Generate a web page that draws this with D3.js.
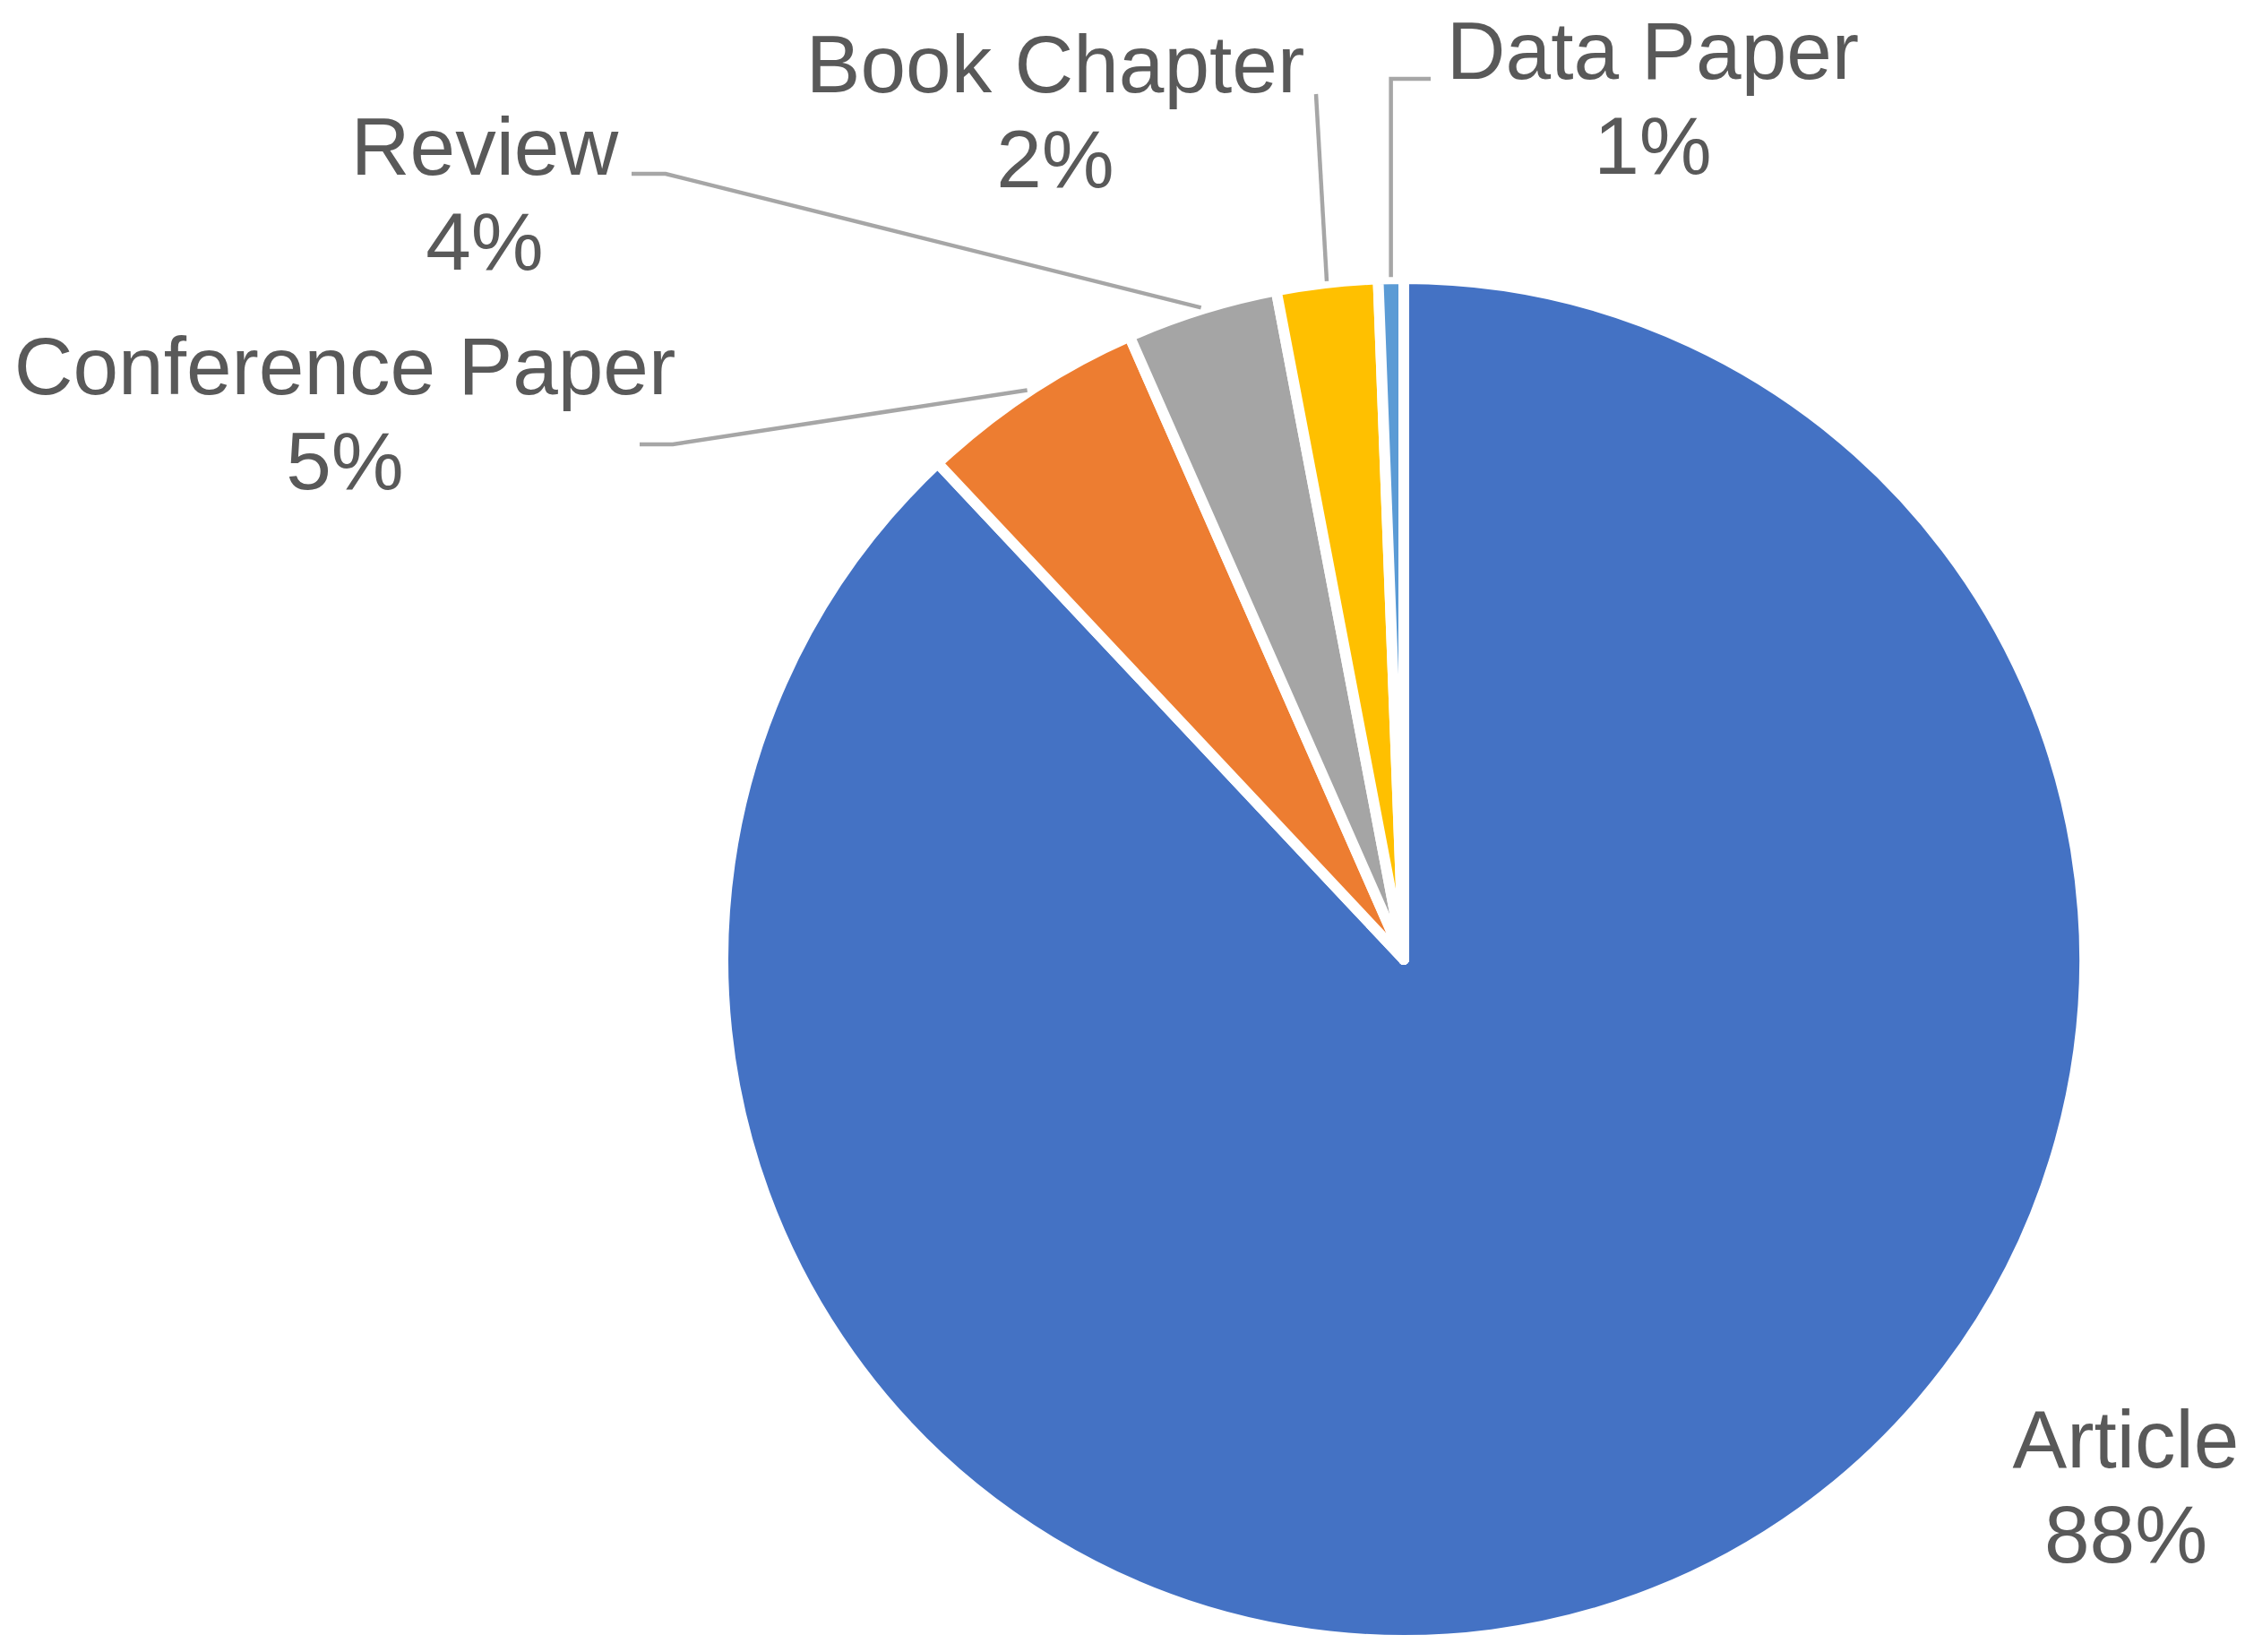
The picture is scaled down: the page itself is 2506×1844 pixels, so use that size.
<!DOCTYPE html>
<html>
<head>
<meta charset="utf-8">
<script src="https://cdn.jsdelivr.net/npm/d3@7"></script>
<style>
  html, body { margin: 0; padding: 0; background: #ffffff; }
  svg { display: block; }
</style>
</head>
<body>
<svg id="chart" width="2506" height="1844"></svg>
<script>
// ---- data ----
const categories = ["Article", "Conference Paper", "Review", "Book Chapter", "Data Paper"];
const shares = [88.0, 5.4, 3.6, 2.4, 0.6];
const sliceColors = ["#4472C4", "#ED7D31", "#A5A5A5", "#FFC000", "#5B9BD5"];

// ---- layout ----
const W = 2506, H = 1844;
const cx = 1567, cy = 1071, R = 760;
const fontSize = 91, lineGap = 106;

const labelLayout = {
  "Article":          { x: 2373, y: 1638 },
  "Conference Paper": { x: 385,  y: 440 },
  "Review":           { x: 541,  y: 195 },
  "Book Chapter":     { x: 1178, y: 103 },
  "Data Paper":       { x: 1845, y: 88 }
};
// leader routes after the start point on the slice edge
const leaderRoute = {
  "Conference Paper": s => [[751, 496], [714, 496]],
  "Review":           s => [[743, 194], [705, 194]],
  "Book Chapter":     s => [[1469, 105]],
  "Data Paper":       s => [[s[0], 88], [1597, 88]]
};

const svg = d3.select("#chart");
const color = d3.scaleOrdinal().domain(categories).range(sliceColors);

const rows = categories.map((c, i) => ({ cat: c, value: shares[i] }));
const total = d3.sum(shares);
const pie = d3.pie().sort(null).value(d => d.value);
const arcs = pie(rows);

const arc = d3.arc().innerRadius(0).outerRadius(R);
const edgeArc = d3.arc().innerRadius(R + 2).outerRadius(R + 2);

const g = svg.append("g").attr("transform", `translate(${cx},${cy})`);

g.selectAll("path.slice")
  .data(arcs)
  .join("path")
  .attr("class", "slice")
  .attr("d", arc)
  .attr("fill", d => color(d.data.cat))
  .attr("stroke", "#ffffff")
  .attr("stroke-width", 12)
  .attr("stroke-linejoin", "round");

// leader lines
const line = d3.line();
arcs.forEach(d => {
  const route = leaderRoute[d.data.cat];
  if (!route) return;
  const c = edgeArc.centroid(d);
  const start = [c[0] + cx, c[1] + cy];
  const pts = [start].concat(route(start));
  svg.append("path")
    .attr("d", line(pts))
    .attr("fill", "none")
    .attr("stroke", "#A6A6A6")
    .attr("stroke-width", 4.5);
});

// labels
arcs.forEach(d => {
  const pos = labelLayout[d.data.cat];
  const pct = Math.round(d.data.value / total * 100) + "%";
  const t = svg.append("text")
    .attr("x", pos.x)
    .attr("y", pos.y)
    .attr("text-anchor", "middle")
    .attr("font-family", "'Liberation Sans', Arial, Helvetica, sans-serif")
    .attr("font-size", fontSize)
    .attr("fill", "#595959");
  t.append("tspan").attr("x", pos.x).attr("y", pos.y).text(d.data.cat);
  t.append("tspan").attr("x", pos.x).attr("y", pos.y + lineGap).text(pct);
});
</script>
</body>
</html>
